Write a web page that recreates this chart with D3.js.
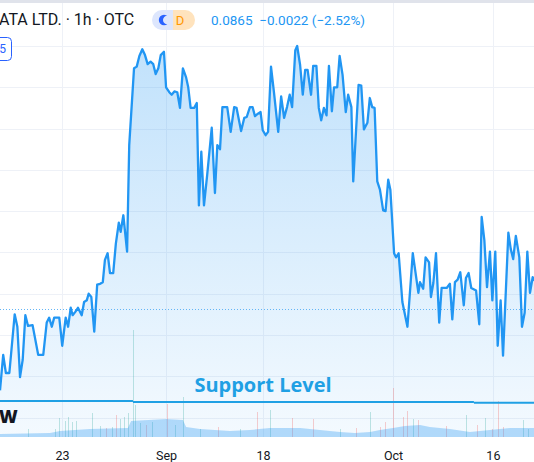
<!DOCTYPE html>
<html><head><meta charset="utf-8">
<script src="https://cdn.jsdelivr.net/npm/d3@7"></script>
<style>html,body{margin:0;padding:0;background:#fff;overflow:hidden}svg{display:block}</style>
</head><body>
<svg id="c" width="534" height="462"></svg>
<script>
// ---- data ----
const hours = [0,1.2,2.2,3.5,5.5,6.5,7.5,8.5,9.5,10.5,12.2,14.3,16.2,17.5,18.4,19.4,20.3,22.2,23.3,24.6,25.5,26.5,27.2,28.2,29.2,30.6,31.5,32.5,33.2,34.2,35.3,36.4,37.5,38.5,39.3,40.3,41.2,42.4,43.4,44.5,45.2,46.2,47.6,48.4,50.2,51.2,52.2,53.3,54.3,55.3,56.4,57.4,58.3,59.3,60.2,61.4,62.2,63.4,64.3,65.3,66.4,67.4,68.5,69.7,70.5,71.4,72.7,73.7,74.5,75.4,76.4,77.6,79.3,80.5,81.4,82.4,83.3,85.1,86.4,87.7,88.6,90.3,91.5,92.4,93.6,94.6,95.5,96.6,97.6,98.4,99.5,100.4,101.5,102.6,104.2,105.3,106.4,107.5,108.5,109.4,110.6,111.3,112.4,113.4,114.3,115.2,116.5,117.3,118.5,119.4,120.3,121.3,122.3,123.2,124.3,125.1,126.3,127.2,128.3,129.5,130.4,131.6,132.3,134.3,135.3,136.3,137.6,138.5,139.4,140.3,141.3,142.3,143.5,144.4,145.4,146.2,147.6,148.3,149.3,150.7,152.6,154.6,156.7,157.3,158.5,159.4,160.7,161.4,162.3,163.3,164.5,165.4,167.3,168.5,169.4,170.4,171.4,172.4,173.7,174.5,175.5,176.5,178.3,179.5,180.4,181.4,182.4,183.5,184.4,185.5,186.4,187.5,188.4,190.4,191.3,192.2,193.2,194.5,195.5,196.5,197.5,198.5,199.5,200.7];
const prices = [0.0783,0.0826,0.0804,0.0804,0.0875,0.0860,0.0799,0.0820,0.0874,0.0861,0.0862,0.0826,0.0826,0.0865,0.0871,0.0860,0.0871,0.0871,0.0837,0.0871,0.0860,0.0883,0.0874,0.0878,0.0883,0.0874,0.0890,0.0892,0.0900,0.0896,0.0854,0.0911,0.0912,0.0914,0.0941,0.0949,0.0925,0.0925,0.0961,0.0986,0.0975,0.0995,0.0951,0.1080,0.1173,0.1175,0.1188,0.1196,0.1189,0.1178,0.1181,0.1178,0.1166,0.1173,0.1189,0.1193,0.1150,0.1144,0.1141,0.1145,0.1144,0.1125,0.1173,0.1162,0.1150,0.1125,0.1125,0.1131,0.1007,0.1072,0.1007,0.1044,0.1101,0.1022,0.1080,0.1075,0.1126,0.1126,0.1096,0.1126,0.1125,0.1097,0.1113,0.1114,0.1126,0.1126,0.1115,0.1118,0.1120,0.1098,0.1092,0.1096,0.1175,0.1144,0.1096,0.1139,0.1113,0.1126,0.1141,0.1126,0.1195,0.1200,0.1177,0.1141,0.1171,0.1171,0.1141,0.1176,0.1176,0.1125,0.1110,0.1125,0.1116,0.1176,0.1121,0.1150,0.1150,0.1188,0.1165,0.1120,0.1141,0.1126,0.1036,0.1153,0.1152,0.1099,0.1107,0.1137,0.1126,0.1125,0.1036,0.1026,0.1001,0.1000,0.1038,0.1026,0.0949,0.0944,0.0949,0.0890,0.0860,0.0949,0.0901,0.0914,0.0906,0.0944,0.0938,0.0896,0.0913,0.0949,0.0865,0.0907,0.0907,0.0912,0.0869,0.0914,0.0917,0.0926,0.0886,0.0919,0.0925,0.0907,0.0904,0.0863,0.0993,0.0965,0.0908,0.0951,0.0892,0.0951,0.0837,0.0892,0.0825,0.0974,0.0954,0.0942,0.0970,0.0944,0.0860,0.0877,0.0951,0.0901,0.0920,0.0914];

const volMaHours = [0,18.7,22.5,33.7,47.9,49.1,62.2,68.5,69.7,74.9,86.1,93.6,101.1,112.4,119.8,127.3,132.9,138.6,142.3,147.2,151.7,157.3,161.0,168.5,176.0,183.5,191.0,200];
const volMa = [3,4,6,8,9,16,18,17,10,8,6,7,9,9,7,5,4,5,7,9,11,12,10,8,5,7,9,9];

const volBarHours = [10.5,20.6,22.1,24.3,25.5,27.0,28.5,34.5,37.5,39.7,41.9,43.4,44.9,46.4,47.9,49.8,50.6,52.4,54.7,56.9,62.5,65.5,68.5,74.9,81.6,89.9,96.2,101.1,109.4,117.2,127.3,133.3,138.6,142.3,144.2,147.2,150.9,152.4,154.7,156.5,167.0,174.5,178.6,181.6,184.3,186.5,188.4,195.9,197.7];
const volBarValues = [8,8,19,16,20,15,16,24,11,9,10,22,18,20,24,107,32,14,12,15,33,12,40,8,10,8,25,27,19,18,8,9,25,10,15,49,20,26,18,17,11,22,12,19,8,36,10,17,8];
const volBarUp = [1,1,1,1,1,1,1,1,1,0,1,0,1,1,1,1,1,1,0,1,0,1,1,1,0,1,0,1,0,0,1,0,1,0,0,0,0,0,1,0,0,1,0,1,0,0,0,1,1];

const tickHours = [23.2,62.2,98.5,147.2,184.6];
const tickLabels = ["23","Sep","18","Oct","16"];
const priceGrid = [0.075,0.080,0.085,0.090,0.095,0.100,0.105,0.110,0.115,0.120];
const lastPrice = 0.0882;

const supportFrom = [0,49.8,177.5];
const supportTo = [49.8,177.5,201];
const supportValues = [0.0770,0.0769,0.0768];

const titleText = "ATA LTD. · 1h · OTC";
const quoteText = "0.0865  \u22120.0022 (\u22122.52%)";

// ---- drawing ----
const svg = d3.select("#c");
const W = 534, H = 462;
const x = d3.scaleLinear().domain([0, 200]).range([0, 534]);
const y = d3.scaleLinear().domain([0.085, 0.120]).range([335, 46]);
const yv = d3.scaleLinear().domain([0, 120]).range([437, 317]);
const paneBottom = 437;

const defs = svg.append("defs");
const grad = defs.append("linearGradient").attr("id","ag")
  .attr("gradientUnits","userSpaceOnUse").attr("x1",0).attr("x2",0).attr("y1", y(0.120)).attr("y2", paneBottom);
grad.append("stop").attr("offset","0%").attr("stop-color","#2196f3").attr("stop-opacity",0.28);
grad.append("stop").attr("offset","100%").attr("stop-color","#2196f3").attr("stop-opacity",0.05);

// grid
svg.append("g").selectAll("line").data(priceGrid).join("line")
  .attr("x1",0).attr("x2",W).attr("y1",d=>Math.round(y(d))+0.5).attr("y2",d=>Math.round(y(d))+0.5)
  .attr("stroke","#eef1f7").attr("stroke-width",1);
svg.append("g").selectAll("line").data(tickHours).join("line")
  .attr("x1",d=>Math.round(x(d))+0.5).attr("x2",d=>Math.round(x(d))+0.5).attr("y1",3).attr("y2",paneBottom)
  .attr("stroke","#eef1f7").attr("stroke-width",1);

const pts = hours.map((h,i)=>[h, prices[i]]);
// area
svg.append("path").datum(pts)
  .attr("d", d3.area().x(d=>x(d[0])).y0(paneBottom).y1(d=>y(d[1])))
  .attr("fill","url(#ag)");

// volume bars
svg.append("g").selectAll("line").data(volBarHours).join("line")
  .attr("x1",d=>Math.round(x(d))+0.5).attr("x2",d=>Math.round(x(d))+0.5)
  .attr("y1",paneBottom).attr("y2",(d,i)=>yv(volBarValues[i]))
  .attr("stroke",(d,i)=>volBarUp[i] ? "rgba(38,166,154,0.28)" : "rgba(239,83,80,0.28)")
  .attr("stroke-width",1);
// volume MA area
const vm = volMaHours.map((h,i)=>[h, volMa[i]]);
svg.append("path").datum(vm)
  .attr("d", d3.area().x(d=>x(d[0])).y0(paneBottom).y1(d=>yv(d[1])))
  .attr("fill","rgba(33,150,243,0.32)");

// last price dotted line
svg.append("line").attr("x1",0).attr("x2",W).attr("y1",Math.round(y(lastPrice))+0.5).attr("y2",Math.round(y(lastPrice))+0.5)
  .attr("stroke","#64b5f6").attr("stroke-width",1).attr("stroke-dasharray","1,2");

// price line
svg.append("path").datum(pts)
  .attr("d", d3.line().x(d=>x(d[0])).y(d=>y(d[1])))
  .attr("fill","none").attr("stroke","#2196f3").attr("stroke-width",2.3).attr("stroke-linejoin","round");

// support level
svg.append("g").selectAll("line").data(supportValues).join("line")
  .attr("x1",(d,i)=>x(supportFrom[i])).attr("x2",(d,i)=>x(supportTo[i]))
  .attr("y1",d=>y(d)).attr("y2",d=>y(d))
  .attr("stroke","#1fa0e4").attr("stroke-width",2);
svg.append("text").attr("x", 263).attr("y", 392).attr("text-anchor","middle")
  .attr("font-family","'Open Sans', sans-serif").attr("font-weight",700).attr("font-size",20)
  .attr("fill","#1fa0e4").text("Support Level");

// partial label on the left
svg.append("text").attr("x",-1).attr("y",423).attr("font-family","'Open Sans', sans-serif")
  .attr("font-weight",800).attr("font-size",18).attr("fill","#131722").text("W");

// x axis
const axisG = svg.append("g").attr("transform",`translate(0,${paneBottom})`);
axisG.append("rect").attr("x",0).attr("y",0).attr("width",W).attr("height",H-paneBottom).attr("fill","#fff");
const xAxis = d3.axisBottom(x).tickValues(tickHours).tickFormat((d,i)=>tickLabels[i]).tickSize(0).tickPadding(14);
axisG.call(xAxis);
axisG.select(".domain").remove();
axisG.selectAll("text").attr("font-family","Roboto, sans-serif").attr("font-size",12.5).attr("fill","#131722");

// header
svg.append("rect").attr("x",0).attr("y",0).attr("width",W).attr("height",3).attr("fill","#e0e3eb");
svg.append("text").attr("x",-1).attr("y",25).attr("font-family","Roboto, sans-serif").attr("font-size",16)
  .attr("fill","#131722").text(titleText);
// pill
const pill = svg.append("g");
pill.append("path").attr("d","M162,10 H173 V30 H162 A10,10 0 0 1 162,10 Z").attr("fill","#dde6fd");
pill.append("path").attr("d","M173,10 H185 A10,10 0 0 1 185,30 H173 Z").attr("fill","#ffe3bd");
pill.append("circle").attr("cx",164).attr("cy",20).attr("r",5.2).attr("fill","#2962ff");
pill.append("circle").attr("cx",167.3).attr("cy",20).attr("r",4.3).attr("fill","#dde6fd");
pill.append("text").attr("x",180).attr("y",25).attr("text-anchor","middle").attr("font-family","Roboto, sans-serif")
  .attr("font-size",13).attr("fill","#ff9800").text("D");
svg.append("text").attr("x",211).attr("y",25).attr("font-family","Roboto, sans-serif").attr("font-size",13.5)
  .attr("fill","#2196f3").attr("xml:space","preserve").style("white-space","pre").text(quoteText);

// left box
svg.append("rect").attr("x",-15).attr("y",37.5).attr("width",26.5).attr("height",23).attr("rx",4)
  .attr("fill","#fff").attr("stroke","#2962ff").attr("stroke-width",1);
svg.append("text").attr("x",6).attr("y",53).attr("text-anchor","end").attr("font-family","Roboto, sans-serif")
  .attr("font-size",12).attr("fill","#2962ff").text("5");
</script>
</body></html>
